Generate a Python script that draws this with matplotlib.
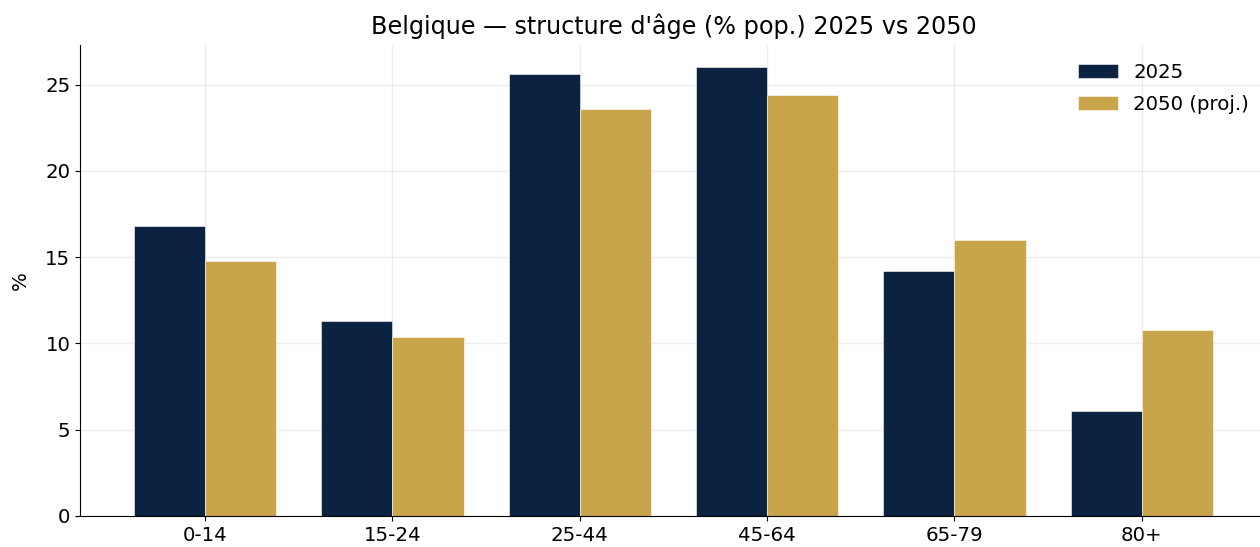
import numpy as np
import matplotlib
matplotlib.use("Agg")
import matplotlib.pyplot as plt

# tranches d'age et parts de la population (%)
groupes = ["0-14", "15-24", "25-44", "45-64", "65-79", "80+"]
part_2025 = [16.8, 11.3, 25.6, 26.0, 14.2, 6.1]
part_2050 = [14.8, 10.4, 23.6, 24.4, 16.0, 10.8]

plt.rcParams["font.size"] = 14.2

fig = plt.figure(figsize=(12.6, 5.47), dpi=100)
ax = fig.add_axes([0.0635, 0.0567, 0.942, 0.861])

x = np.arange(len(groupes))
w = 0.38
ax.bar(x - w / 2, part_2025, w, color="#0b2340", label="2025",
       edgecolor="white", linewidth=0.4, zorder=2)
ax.bar(x + w / 2, part_2050, w, color="#c8a54b", label="2050 (proj.)",
       edgecolor="white", linewidth=0.4, zorder=2)

ax.set_xticks(x)
ax.set_xticklabels(groupes)
ax.set_ylabel("%", labelpad=11)
ax.set_title("Belgique \u2014 structure d'\u00e2ge (% pop.) 2025 vs 2050",
             fontsize=17.2, pad=8)
ax.grid(True, color="#cccccc", alpha=0.35, linewidth=1, zorder=3)
ax.spines["top"].set_visible(False)
ax.spines["right"].set_visible(False)
ax.legend(frameon=False, loc="upper right", bbox_to_anchor=(1.0, 1.0),
          labelspacing=0.65)

plt.savefig("out.png", dpi=100)
